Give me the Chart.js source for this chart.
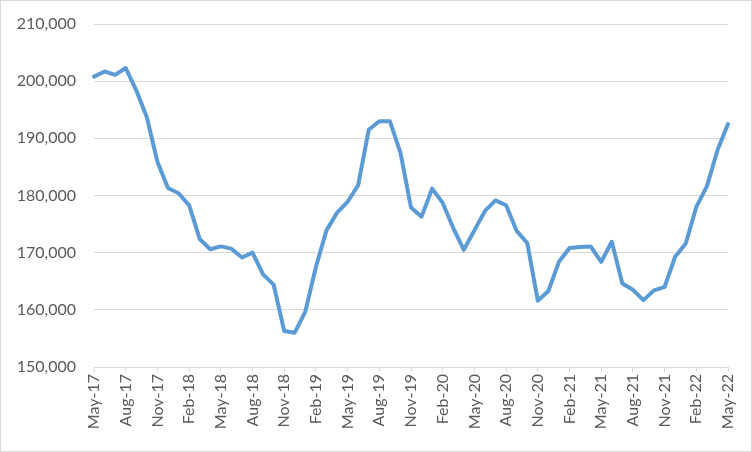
<!DOCTYPE html>
<html>
<head>
<meta charset="utf-8">
<script src="https://cdn.jsdelivr.net/npm/chart.js@4/dist/chart.umd.min.js"></script>
<style>
  html, body { margin: 0; padding: 0; background: #fff; }
  #wrap { width: 752px; height: 452px; }
</style>
</head>
<body>
<div id="wrap"><canvas id="chart" width="752" height="452"></canvas></div>
<script>
// monthly values, May-17 .. May-22
const months = [
  'May-17','Jun-17','Jul-17','Aug-17','Sep-17','Oct-17','Nov-17','Dec-17',
  'Jan-18','Feb-18','Mar-18','Apr-18','May-18','Jun-18','Jul-18','Aug-18','Sep-18','Oct-18','Nov-18','Dec-18',
  'Jan-19','Feb-19','Mar-19','Apr-19','May-19','Jun-19','Jul-19','Aug-19','Sep-19','Oct-19','Nov-19','Dec-19',
  'Jan-20','Feb-20','Mar-20','Apr-20','May-20','Jun-20','Jul-20','Aug-20','Sep-20','Oct-20','Nov-20','Dec-20',
  'Jan-21','Feb-21','Mar-21','Apr-21','May-21','Jun-21','Jul-21','Aug-21','Sep-21','Oct-21','Nov-21','Dec-21',
  'Jan-22','Feb-22','Mar-22','Apr-22','May-22'
];
const values = [
  200800, 201700, 201100, 202300, 198400, 193700, 185900, 181300,
  180400, 178300, 172400, 170600, 171100, 170700, 169150, 170000, 166200, 164400, 156300, 156000,
  159700, 167500, 173900, 177000, 178900, 181800, 191500, 193000, 193000, 187500, 177900, 176300,
  181200, 178700, 174300, 170500, 173900, 177300, 179150, 178300, 173800, 171700, 161600, 163300,
  168400, 170800, 171000, 171100, 168400, 171900, 164600, 163500, 161700, 163400, 164000, 169300,
  171600, 178000, 181600, 187900, 192500
];
const yMin = 150000, yMax = 210000, yStep = 10000;
const labelEvery = 3;

const textColor = '#595959';
const gridColor = '#d9d9d9';
const font = { family: 'Lato', size: 16 };

const frame = {
  id: 'frame',
  afterDraw(chart) {
    const c = chart.ctx;
    c.save();
    c.strokeStyle = gridColor;
    c.lineWidth = 1;
    c.strokeRect(0.5, 0.5, chart.width - 1, chart.height - 1);
    c.restore();
  }
};

new Chart(document.getElementById('chart'), {
  type: 'line',
  data: {
    labels: months,
    datasets: [{
      data: values,
      borderColor: '#5b9bd5',
      borderWidth: 4,
      pointRadius: 0,
      tension: 0,
      borderJoinStyle: 'round',
      borderCapStyle: 'round'
    }]
  },
  options: {
    responsive: false,
    animation: false,
    layout: { padding: { top: 24, right: 24, left: 0, bottom: 0 } },
    plugins: { legend: { display: false }, tooltip: { enabled: false } },
    scales: {
      x: {
        afterFit: s => { s.height = 85; },
        grid: { drawOnChartArea: false, drawTicks: true, tickLength: 5, color: gridColor },
        border: { color: gridColor },
        ticks: {
          autoSkip: false, maxRotation: 90, minRotation: 90, padding: 2,
          color: textColor, font,
          callback: (v, i) => (i % labelEvery === 0 ? months[i] : null)
        }
      },
      y: {
        min: yMin, max: yMax,
        afterFit: s => { s.width = 94; s.paddingTop = 0; s.paddingBottom = 0; },
        grid: { color: gridColor, drawTicks: false },
        border: { display: false },
        ticks: {
          stepSize: yStep, padding: 18, color: textColor, font,
          callback: v => v.toLocaleString('en-US')
        }
      }
    }
  },
  plugins: [frame]
});
</script>
</body>
</html>
